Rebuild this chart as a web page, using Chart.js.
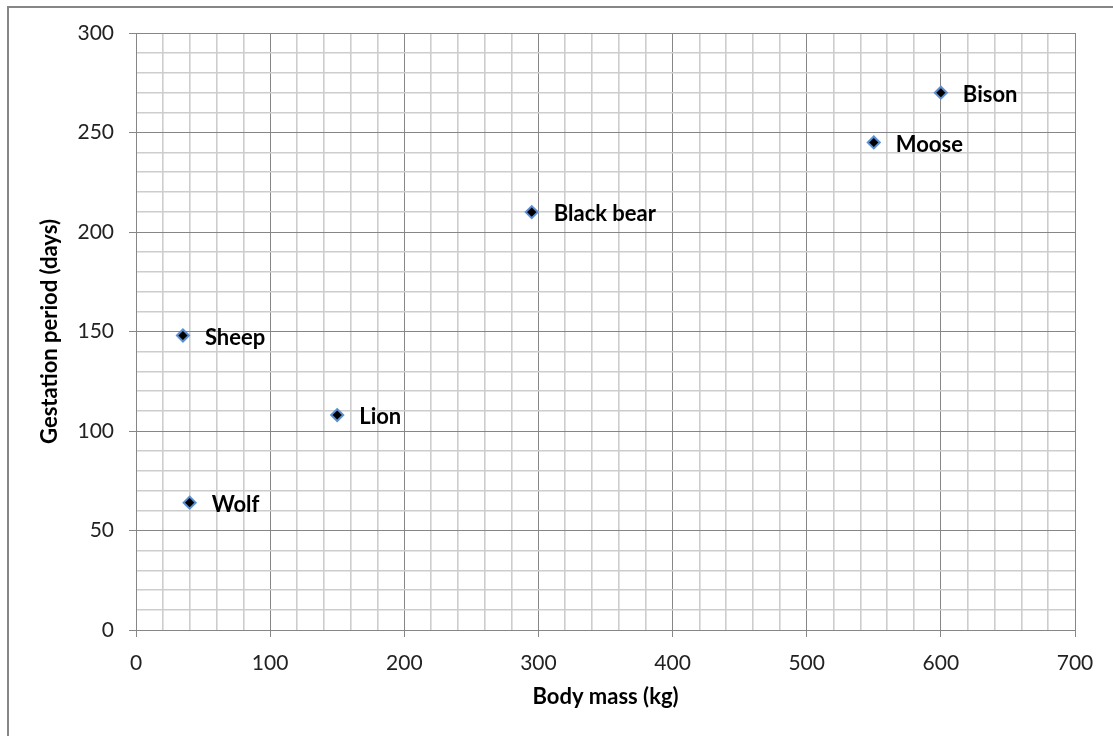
<!DOCTYPE html>
<html>
<head>
<meta charset="utf-8">
<script src="https://cdn.jsdelivr.net/npm/chart.js@4/dist/chart.umd.min.js"></script>
<style>
  html, body { margin: 0; padding: 0; background: #fff; overflow: hidden; }
  #wrap { position: relative; width: 1113px; height: 736px; }
  #frame {
    position: absolute; left: 7px; top: 6px; width: 1200px; height: 800px;
    border-left: 2px solid #868686; border-top: 2px solid #868686;
    pointer-events: none;
  }
  canvas { position: absolute; left: 0; top: 0; }
</style>
</head>
<body>
<div id="wrap">
  <canvas id="chart" width="1113" height="736"></canvas>
  <div id="frame"></div>
</div>
<script>
const animals = ['Wolf', 'Sheep', 'Lion', 'Black bear', 'Moose', 'Bison'];
const bodyMass = [40, 35, 150, 295, 550, 600];
const gestation = [64, 148, 108, 210, 245, 270];

const xTicks = [0, 100, 200, 300, 400, 500, 600, 700];
const yTicks = [0, 50, 100, 150, 200, 250, 300];

const isMajor = (v, list) => list.includes(v);

const pointLabels = {
    id: 'pointLabels',
    afterDatasetsDraw(chart) {
        const ctx = chart.ctx;
        const meta = chart.getDatasetMeta(0);
        ctx.save();
        ctx.font = 'bold 22px Lato';
        ctx.fillStyle = '#000';
        ctx.textBaseline = 'middle';
        ctx.textAlign = 'left';
        meta.data.forEach((el, i) => {
            ctx.fillText(animals[i], el.x + 22, el.y + 2);
        });
        ctx.restore();
    }
};

const gridFor = (list) => ({
    color: c => isMajor(c.tick.value, list) ? '#868686' : '#cdcdcd',
    lineWidth: c => isMajor(c.tick.value, list) ? 1 : 1.6,
    tickColor: c => isMajor(c.tick.value, list) ? '#868686' : 'rgba(0,0,0,0)',
    tickLength: 7,
    drawTicks: true
});

new Chart(document.getElementById('chart'), {
    type: 'scatter',
    data: {
        datasets: [{
            label: 'Gestation',
            data: bodyMass.map((m, i) => ({x: m, y: gestation[i]})),
            pointStyle: 'rectRot',
            pointRadius: 6,
            pointHoverRadius: 6,
            backgroundColor: '#000',
            borderColor: '#5b8fd0',
            borderWidth: 2
        }]
    },
    options: {
        responsive: false,
        animation: false,
        layout: {padding: {left: 33, top: 33, right: 38, bottom: 22}},
        plugins: {
            legend: {display: false},
            tooltip: {enabled: false}
        },
        scales: {
            x: {
                type: 'linear',
                min: 0, max: 700,
                afterFit: s => { s.height = 84; },
                border: {color: '#868686'},
                grid: gridFor(xTicks),
                ticks: {
                    stepSize: 20,
                    autoSkip: false,
                    maxRotation: 0,
                    padding: 14,
                    color: '#222',
                    font: {family: 'Lato', size: 21},
                    callback: v => isMajor(v, xTicks) ? v : ''
                },
                title: {
                    display: true,
                    text: 'Body mass (kg)',
                    color: '#000',
                    font: {family: 'Lato', size: 22, weight: 'bold'},
                    padding: {top: 4, bottom: 4}
                }
            },
            y: {
                type: 'linear',
                min: 0, max: 300,
                afterFit: s => { s.width = 103; },
                border: {color: '#868686'},
                grid: gridFor(yTicks),
                ticks: {
                    stepSize: 10,
                    autoSkip: false,
                    padding: 15,
                    color: '#222',
                    font: {family: 'Lato', size: 21},
                    callback: v => isMajor(v, yTicks) ? v : ''
                },
                title: {
                    display: true,
                    text: 'Gestation period (days)',
                    color: '#000',
                    font: {family: 'Lato', size: 22, weight: 'bold'},
                    padding: {top: 4, bottom: 4}
                }
            }
        }
    },
    plugins: [pointLabels]
});
</script>
</body>
</html>
